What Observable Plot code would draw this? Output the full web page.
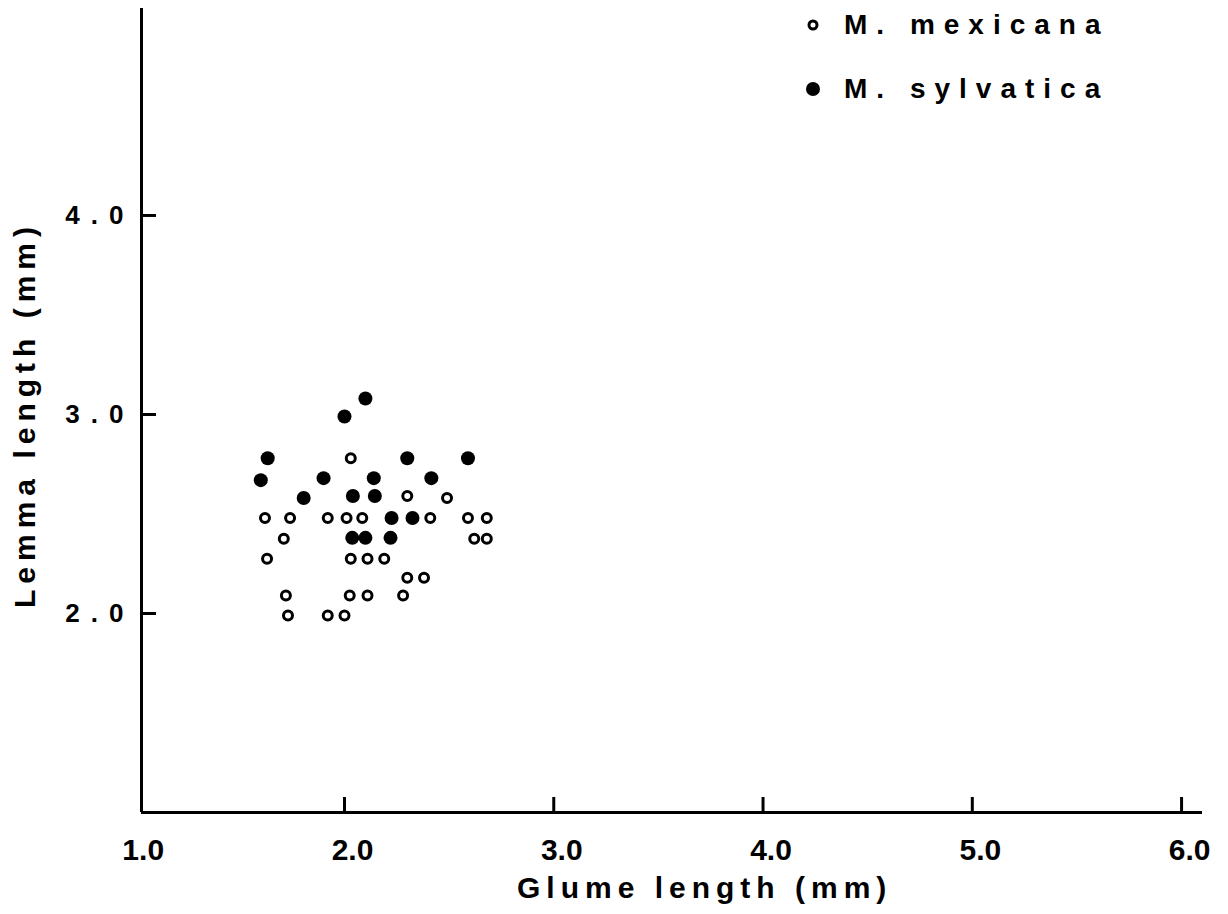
<!DOCTYPE html>
<html>
<head>
<meta charset="utf-8">
<script src="https://cdn.jsdelivr.net/npm/d3@7"></script>
<script src="https://cdn.jsdelivr.net/npm/@observablehq/plot@0.6"></script>
<style>
  html, body { margin: 0; padding: 0; background: #fff; }
  #wrap { position: relative; width: 1228px; height: 914px; overflow: hidden; font-family: "Liberation Sans", Arial, sans-serif; font-weight: bold; color: #000; }
  #wrap svg g[aria-label="y-axis tick label"], #wrap svg g[aria-label="y-axis tick label"] text { font-size: 26px !important; letter-spacing: 11px; font-weight: bold; }
  #wrap svg g[aria-label="x-axis tick label"], #wrap svg g[aria-label="x-axis tick label"] text { font-size: 30px !important; font-weight: bold; }
  .lab { position: absolute; white-space: nowrap; font-weight: bold; color: #000; }
  #xtitle { left: 517px; top: 871px; font-size: 30px; letter-spacing: 6px; line-height: 34px; }
  #ytitle { left: 8px; top: 608px; font-size: 30px; letter-spacing: 6px; line-height: 34px; transform-origin: 0 0; transform: rotate(-90deg); }
  .leg { position: absolute; left: 804px; display: flex; align-items: center; font-size: 28px; letter-spacing: 9px; line-height: 34px; white-space: nowrap; }
  .leg svg { margin-right: 22px; }
</style>
</head>
<body>
<div id="wrap"></div>
<script>
// Data
const mexicanaGlume = [2.03, 2.30, 2.49, 1.62, 1.74, 1.92, 2.01, 2.085, 2.41, 2.59, 2.68, 1.71, 2.62, 2.68, 1.63, 2.03, 2.11, 2.19, 2.30, 2.38, 1.72, 2.025, 2.11, 2.28, 1.73, 1.92, 2.00];
const mexicanaLemma = [2.78, 2.59, 2.58, 2.48, 2.48, 2.48, 2.48, 2.48, 2.48, 2.48, 2.48, 2.375, 2.375, 2.375, 2.275, 2.275, 2.275, 2.275, 2.18, 2.18, 2.09, 2.09, 2.09, 2.09, 1.99, 1.99, 1.99];
const sylvaticaGlume = [2.10, 2.00, 1.633, 2.30, 2.59, 1.60, 1.90, 2.14, 2.415, 1.805, 2.04, 2.145, 2.225, 2.325, 2.037, 2.10, 2.22];
const sylvaticaLemma = [3.08, 2.99, 2.78, 2.78, 2.78, 2.67, 2.68, 2.68, 2.68, 2.58, 2.59, 2.59, 2.48, 2.48, 2.38, 2.38, 2.38];
const seriesNames = ["M. mexicana", "M. sylvatica"];
const xTickValues = [1, 2, 3, 4, 5, 6];
const yTickValues = [2, 3, 4];
const xDomain = [1.03, 6.1];
const yDomain = [1, 5.04];
const xLabel = "Glume length (mm)";
const yLabel = "Lemma length (mm)";

const mexicana = mexicanaGlume.map((g, i) => ({glume: g, lemma: mexicanaLemma[i]}));
const sylvatica = sylvaticaGlume.map((g, i) => ({glume: g, lemma: sylvaticaLemma[i]}));

const W = 1228, H = 914, mL = 141, mR = 26, mT = 8, mB = 102;
const plotW = W - mL - mR, plotH = H - mT - mB;
const fmt = d3.format(".1f");

const chart = Plot.plot({
  width: W, height: H,
  marginLeft: mL, marginRight: mR, marginTop: mT, marginBottom: mB,
  x: {domain: xDomain},
  y: {domain: yDomain},
  style: {fontFamily: "'Liberation Sans', Arial, sans-serif", fontWeight: "bold", color: "#000", background: "#fff"},
  marks: [
    Plot.axisX(xTickValues, {tickSize: 0, tickPadding: 26, tickFormat: fmt, dx: 8, label: null}),
    Plot.axisY(yTickValues, {tickSize: 0, tickPadding: 7, tickFormat: fmt, label: null}),
    Plot.ruleY([yDomain[0]], {stroke: "#000", strokeWidth: 3}),
    Plot.ruleX([xDomain[0]], {stroke: "#000", strokeWidth: 3}),
    Plot.ruleX(xTickValues.slice(1), {stroke: "#000", strokeWidth: 3, insetTop: plotH - 15}),
    Plot.ruleY(yTickValues, {stroke: "#000", strokeWidth: 3, insetRight: plotW - 15}),
    Plot.dot(mexicana, {x: "glume", y: "lemma", r: 4.5, stroke: "#000", strokeWidth: 3, fill: "#fff"}),
    Plot.dot(sylvatica, {x: "glume", y: "lemma", r: 7, fill: "#000", stroke: "none"})
  ]
});

const wrap = document.getElementById("wrap");
wrap.appendChild(chart);

function addLabel(id, text) {
  const d = document.createElement("div");
  d.className = "lab"; d.id = id; d.textContent = text;
  wrap.appendChild(d);
}
addLabel("xtitle", xLabel);
addLabel("ytitle", yLabel);

// Legend
const legTops = [8, 72];
seriesNames.forEach((name, i) => {
  const row = document.createElement("div");
  row.className = "leg";
  row.style.top = legTops[i] + "px";
  const ns = "http://www.w3.org/2000/svg";
  const s = document.createElementNS(ns, "svg");
  s.setAttribute("width", 18); s.setAttribute("height", 18);
  const c = document.createElementNS(ns, "circle");
  c.setAttribute("cx", 9); c.setAttribute("cy", 9);
  if (i === 0) { c.setAttribute("r", 4); c.setAttribute("fill", "#fff"); c.setAttribute("stroke", "#000"); c.setAttribute("stroke-width", 3); }
  else { c.setAttribute("r", 7); c.setAttribute("fill", "#000"); }
  s.appendChild(c);
  row.appendChild(s);
  const t = document.createElement("span");
  t.textContent = name;
  row.appendChild(t);
  wrap.appendChild(row);
});
</script>
</body>
</html>
